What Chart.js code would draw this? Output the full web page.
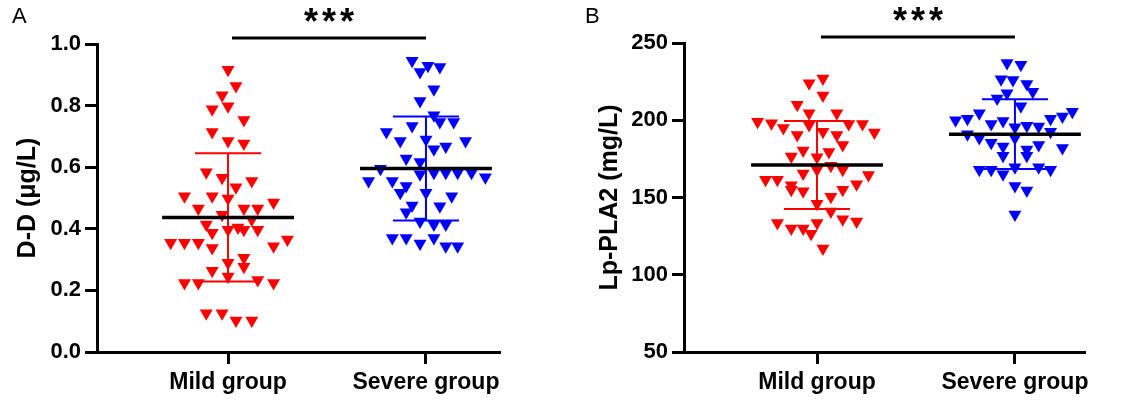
<!DOCTYPE html>
<html><head><meta charset="utf-8">
<script src="https://cdn.jsdelivr.net/npm/chart.js@4.4.1/dist/chart.umd.min.js"></script>
<style>
html,body{margin:0;padding:0;background:#fff;}
#wrap{position:relative;width:1143px;height:400px;overflow:hidden;}
canvas{position:absolute;top:0;}
#ca{left:0;}
#cb{left:560px;}
</style></head><body>
<div id="wrap">
<canvas id="ca" width="560" height="400"></canvas>
<canvas id="cb" width="583" height="400"></canvas>
</div>
<script>
const categories = ["Mild group", "Severe group"];
const panelLabels = ["A", "B"];
const yTitles = ["D-D (μg/L)", "Lp-PLA2 (mg/L)"];
const yTicksA = [0, 0.2, 0.4, 0.6, 0.8, 1.0];
const yTickLabelsA = ["0.0", "0.2", "0.4", "0.6", "0.8", "1.0"];
const yTicksB = [50, 100, 150, 200, 250];
const yTickLabelsB = ["50", "100", "150", "200", "250"];
const sigText = "***";
const sigSpan = [1.02, 2.0];

// Panel A, D-D (μg/L): jitter offset from group centre, value
const mildA_dx = [0.00,0.04,-0.03,-0.08,0.00,0.08,-0.08,0.00,0.08,-0.11,-0.03,0.12,0.04,-0.22,-0.08,0.00,0.23,-0.15,0.08,0.15,-0.03,0.12,-0.11,0.05,0.00,0.08,0.15,-0.08,-0.29,-0.22,-0.15,0.30,0.23,-0.08,0.08,0.00,0.08,-0.08,0.00,-0.22,-0.15,0.15,0.23,-0.11,-0.03,0.04,0.12];
const mildA_y  = [0.916,0.864,0.834,0.788,0.798,0.753,0.714,0.685,0.677,0.584,0.566,0.555,0.535,0.506,0.506,0.498,0.485,0.466,0.466,0.466,0.446,0.430,0.414,0.404,0.397,0.397,0.397,0.387,0.355,0.355,0.355,0.365,0.343,0.338,0.306,0.290,0.277,0.264,0.245,0.224,0.224,0.234,0.224,0.126,0.126,0.102,0.102];
const severeA_dx = [-0.07,0.01,0.07,-0.03,0.04,-0.03,0.04,0.07,0.14,-0.20,-0.07,-0.13,0.00,0.20,0.04,0.10,-0.10,-0.03,-0.23,-0.03,0.04,0.10,0.16,0.23,0.30,-0.29,-0.17,-0.10,-0.13,0.00,0.13,-0.07,-0.10,0.07,-0.03,0.04,0.10,-0.17,-0.10,-0.03,0.04,0.10,0.16];
const severeA_y  = [0.946,0.929,0.925,0.909,0.853,0.815,0.769,0.747,0.747,0.714,0.734,0.685,0.690,0.685,0.658,0.667,0.628,0.617,0.595,0.577,0.582,0.582,0.582,0.582,0.567,0.555,0.555,0.539,0.517,0.517,0.506,0.476,0.454,0.473,0.424,0.414,0.414,0.370,0.370,0.352,0.370,0.343,0.343];
const meanA = [0.437, 0.596];
const sdA = [0.208, 0.169];

// Panel B, Lp-PLA2 (mg/L)
const mildB_dx = [0.03,-0.04,0.03,-0.10,-0.04,0.10,-0.30,-0.23,-0.17,-0.04,0.16,0.23,0.29,-0.10,0.03,0.10,0.13,-0.07,0.06,-0.13,0.00,0.07,0.00,0.13,-0.07,0.26,-0.26,-0.20,-0.13,-0.13,-0.07,0.13,0.20,0.07,0.00,0.07,-0.20,-0.13,-0.07,0.00,-0.03,0.13,0.20,0.03];
const mildB_y  = [227,224,216,210,204.5,204.5,199,198,195,197,197.5,197.5,192,190.5,192.5,190.5,184,180.5,179.5,176.5,176,170.5,168,168,165.5,164.5,161.5,161.5,158,155,154,155,158.5,150.5,146,141,133.5,130,130,133.5,126.5,136,134.5,117];
const severeB_dx = [-0.04,0.03,-0.07,-0.01,0.06,0.09,-0.04,-0.09,0.03,-0.30,-0.24,-0.18,-0.12,-0.06,0.00,0.06,0.12,0.18,0.24,0.29,0.18,-0.24,-0.18,-0.12,-0.06,0.00,0.12,0.06,0.06,-0.06,0.24,-0.18,-0.12,-0.06,0.00,0.12,0.18,0.00,0.06,0.00];
const severeB_y  = [237,236,226.5,226,223.5,218.5,217.5,214,209,200,201,204.5,197.5,199.5,195.5,196.5,196,201,202.5,205.5,192.5,191,188.5,185.5,183,188.5,184,181,177,177,182,168,168,165,169.5,169.5,168,157.5,154.5,139];
const meanB = [171, 191];
const sdB = [28.5, 22.6];

const FONT = "'Liberation Sans', Arial, Helvetica, sans-serif";
const COLORS = ["#ff0000", "#0000ff"];

function pts(dx, ys, g) { return ys.map((y, i) => ({ x: g + dx[i], y: y })); }

function buildDatasets(groups, means, sds) {
  const ds = [];
  const meanHalf = 0.333, capHalf = 0.167;
  groups.forEach((gr, i) => {
    const g = i + 1;
    ds.push({ data: pts(gr.dx, gr.y, g), pointStyle: 'triangle', rotation: 180, pointRadius: 7.5,
      pointBackgroundColor: COLORS[i], pointBorderWidth: 0, showLine: false, order: 3, clip: false });
  });
  means.forEach((m, i) => {
    const g = i + 1, s = sds[i];
    ds.push({ data: [
        { x: g - capHalf, y: m + s }, { x: g + capHalf, y: m + s }, { x: g, y: null },
        { x: g, y: m + s }, { x: g, y: m - s }, { x: g, y: null },
        { x: g - capHalf, y: m - s }, { x: g + capHalf, y: m - s }],
      showLine: true, spanGaps: false, borderColor: COLORS[i], borderWidth: 2, pointRadius: 0, order: 2, clip: false });
    ds.push({ data: [{ x: g - meanHalf, y: m }, { x: g + meanHalf, y: m }],
      showLine: true, borderColor: '#000', borderWidth: 3.5, pointRadius: 0, order: 1, clip: false });
  });
  return ds;
}

function makeChart(id, p) {
  const annot = {
    id: 'annot',
    afterDraw(chart) {
      const ctx = chart.ctx, xs = chart.scales.x, top = chart.chartArea.top;
      ctx.save();
      ctx.fillStyle = '#000';
      ctx.font = "22px " + FONT;
      ctx.textAlign = 'left'; ctx.textBaseline = 'middle';
      ctx.fillText(p.letter, p.letterX, 17);
      const x1 = xs.getPixelForValue(sigSpan[0]), x2 = xs.getPixelForValue(sigSpan[1]);
      ctx.strokeStyle = '#000'; ctx.lineWidth = 3;
      ctx.beginPath(); ctx.moveTo(x1, top - 6); ctx.lineTo(x2, top - 6); ctx.stroke();
      ctx.font = "bold 36px " + FONT;
      if ('letterSpacing' in ctx) ctx.letterSpacing = '4px';
      ctx.textAlign = 'center'; ctx.textBaseline = 'middle';
      ctx.fillText(sigText, (x1 + x2) / 2 + 2, top - 20);
      ctx.restore();
    }
  };
  return new Chart(document.getElementById(id), {
    type: 'scatter',
    data: { datasets: p.datasets },
    options: {
      responsive: false, animation: false, events: [], devicePixelRatio: 1,
      layout: { padding: { left: 0, right: p.padRight, top: p.padTop, bottom: 0 } },
      plugins: { legend: { display: false }, tooltip: { enabled: false } },
      scales: {
        x: {
          type: 'linear', min: p.xMin, max: p.xMax,
          afterBuildTicks: s => { s.ticks = [{ value: 1 }, { value: 2 }]; },
          afterFit: s => { s.height = 48; },
          ticks: { callback: (v, i) => categories[i], font: { family: FONT, size: 23, weight: 'bold' },
            color: '#000', padding: 5, maxRotation: 0, autoSkip: false },
          grid: { display: true, drawOnChartArea: false, drawTicks: true, tickLength: 12, tickWidth: 3, tickColor: '#000' },
          border: { display: true, color: '#000', width: 3 }
        },
        y: {
          type: 'linear', min: p.yTicks[0], max: p.yTicks[p.yTicks.length - 1],
          afterBuildTicks: s => { s.ticks = p.yTicks.map(v => ({ value: v })); },
          afterFit: s => { s.width = p.yWidth; },
          ticks: { callback: (v, i) => p.yLabels[i], font: { family: FONT, size: 22, weight: 'bold' },
            color: '#000', padding: 4 },
          grid: { display: true, drawOnChartArea: false, drawTicks: true, tickLength: 12, tickWidth: 3, tickColor: '#000' },
          border: { display: true, color: '#000', width: 3 },
          title: { display: true, text: p.yTitle, color: '#000', font: { family: FONT, size: 25, weight: 'bold' },
            padding: { top: p.titlePad, bottom: 0 } }
        }
      }
    },
    plugins: [annot]
  });
}

makeChart('ca', {
  letter: panelLabels[0], letterX: 12, yTitle: yTitles[0], yTicks: yTicksA, yLabels: yTickLabelsA,
  xMin: 0.338, xMax: 2.374, yWidth: 97, padRight: 60, padTop: 44, titlePad: 13,
  datasets: buildDatasets([{ dx: mildA_dx, y: mildA_y }, { dx: severeA_dx, y: severeA_y }], meanA, sdA)
});
makeChart('cb', {
  letter: panelLabels[1], letterX: 25, yTitle: yTitles[1], yTicks: yTicksB, yLabels: yTickLabelsB,
  xMin: 0.328, xMax: 2.354, yWidth: 124, padRight: 58, padTop: 43, titlePad: 35,
  datasets: buildDatasets([{ dx: mildB_dx, y: mildB_y }, { dx: severeB_dx, y: severeB_y }], meanB, sdB)
});
</script>
</body></html>
